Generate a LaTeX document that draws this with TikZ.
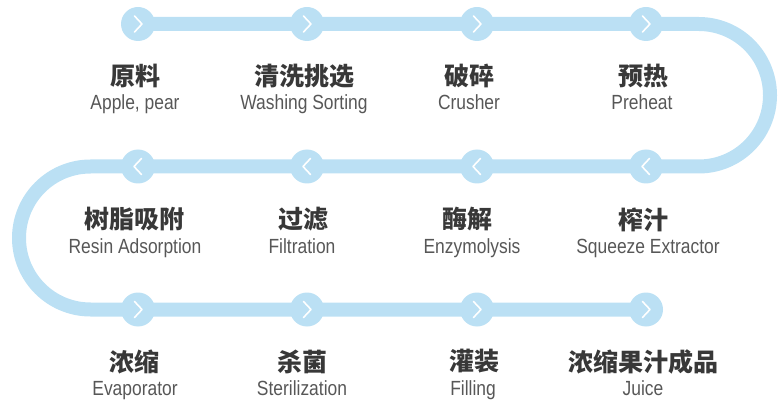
\documentclass[tikz,border=0pt]{standalone}
\usepackage{fontspec}
\setmainfont{Liberation Sans}
\newfontfamily\cjkfont{Noto Sans CJK SC}
\newfontfamily\enfont{Liberation Sans}[FakeStretch=0.85]
\definecolor{bandblue}{HTML}{BBE0F4}
\definecolor{cntext}{HTML}{383838}
\definecolor{entext}{HTML}{575757}
\begin{document}
\begin{tikzpicture}[x=1pt,y=1pt,
  band/.style={line width=14pt, draw=bandblue},
  dot/.style={circle, fill=bandblue, minimum size=34pt, inner sep=0pt},
  cn/.style={font=\cjkfont\bfseries\fontsize{25}{25}\selectfont, text=cntext, inner sep=0pt},
  en/.style={font=\enfont\fontsize{20.5}{20.5}\selectfont, text=entext, inner sep=0pt, anchor=base},
  chev/.style={draw=white, line width=1.6pt, line cap=round, line join=round}]
\useasboundingbox (0,0) rectangle (778,-403);
% circles
\foreach \r/\y in {1/-24,2/-166.5,3/-309.5}{
  \foreach \c/\x in {1/138,2/307,3/477,4/646}{
    \coordinate (p\r\c) at (\x,\y);
  }
}
\coordinate (r1) at (698.75,-24);
\coordinate (l2) at (90.5,-166.5);
\draw[band] (p11) -- (r1) arc[start angle=90,end angle=-90,radius=71.25]
  -- (l2) arc[start angle=90,end angle=270,radius=71.5] -- (p34);
\foreach \r in {1,2,3}{
  \foreach \c in {1,2,3,4}{
    \node[dot] (c\r\c) at (p\r\c) {};
  }
}
% chevrons
\foreach \c in {1,2,3,4}{
  \draw[chev] ([shift={(-3.5,8)}]c1\c.center) -- ([shift={(4,0)}]c1\c.center) -- ([shift={(-3.5,-8)}]c1\c.center);
  \draw[chev] ([shift={(3.5,8)}]c2\c.center) -- ([shift={(-4,0)}]c2\c.center) -- ([shift={(3.5,-8)}]c2\c.center);
  \draw[chev] ([shift={(-3.5,8)}]c3\c.center) -- ([shift={(4,0)}]c3\c.center) -- ([shift={(-3.5,-8)}]c3\c.center);
}
% labels row 1
\node[cn] (t11) at (135,-76) {原料};
\node[en] (e11) at (135,-110) {Apple, pear};
\node[cn] (t12) at (304,-76) {清洗挑选};
\node[en] (e12) at (304,-110) {Washing Sorting};
\node[cn] (t13) at (469,-76) {破碎};
\node[en] (e13) at (469,-110) {Crusher};
\node[cn] (t14) at (643,-76) {预热};
\node[en] (e14) at (642,-110) {Preheat};
% row 2
\node[cn] (t21) at (134,-219.5) {树脂吸附};
\node[en] (e21) at (135,-253) {Resin Adsorption};
\node[cn] (t22) at (303,-219.5) {过滤};
\node[en] (e22) at (302,-253) {Filtration};
\node[cn] (t23) at (467,-219.5) {酶解};
\node[en] (e23) at (472,-253) {Enzymolysis};
\node[cn] (t24) at (643,-219.5) {榨汁};
\node[en] (e24) at (648,-253) {Squeeze Extractor};
% row 3
\node[cn] (t31) at (134,-361.5) {浓缩};
\node[en] (e31) at (135,-395) {Evaporator};
\node[cn] (t32) at (302,-361.5) {杀菌};
\node[en] (e32) at (302,-395) {Sterilization};
\node[cn] (t33) at (474,-361.5) {灌装};
\node[en] (e33) at (473,-395) {Filling};
\node[cn] (t34) at (643,-361.5) {浓缩果汁成品};
\node[en] (e34) at (643,-395) {Juice};
\end{tikzpicture}
\end{document}
